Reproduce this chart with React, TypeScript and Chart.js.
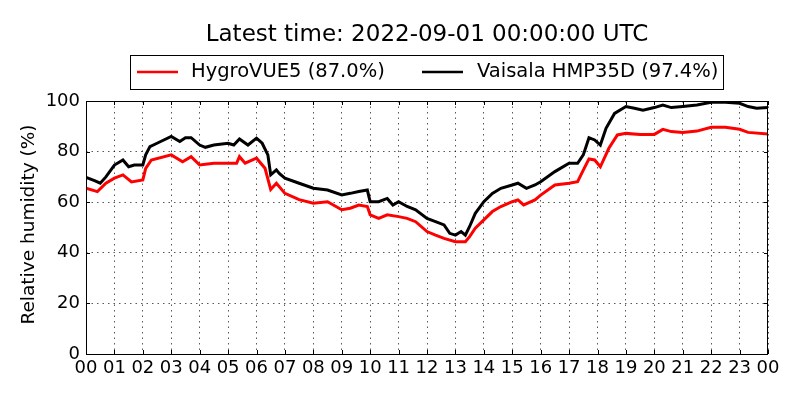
import { useEffect, useRef } from 'react'
import { Chart, registerables } from 'chart.js'

Chart.register(...registerables)

const titleText = 'Latest time: 2022-09-01 00:00:00 UTC'
const yLabel = 'Relative humidity (%)'
const hygroLabel = 'HygroVUE5 (87.0%)'
const vaisalaLabel = 'Vaisala HMP35D (97.4%)'

// hours since 00 UTC and relative humidity (%)
const hygroHours = [0, 0.4, 0.7, 1, 1.3, 1.6, 2, 2.1, 2.3, 3, 3.4, 3.7, 4, 4.5, 5, 5.3, 5.4, 5.6, 6, 6.3, 6.5, 6.7, 7, 7.5, 8, 8.5, 9, 9.3, 9.6, 9.9, 10, 10.3, 10.6, 11, 11.3, 11.6, 12, 12.3, 12.6, 13, 13.35, 13.5, 13.7, 14, 14.3, 14.6, 15, 15.2, 15.4, 15.8, 16, 16.5, 17, 17.3, 17.5, 17.7, 17.9, 18.1, 18.4, 18.7, 19, 19.5, 20, 20.3, 20.6, 21, 21.5, 22, 22.5, 23, 23.3, 24]
const hygroValues = [65.5, 64.2, 67.5, 69.5, 70.8, 68, 68.8, 73.4, 76.7, 78.7, 76, 78, 74.7, 75.4, 75.4, 75.4, 78, 75.4, 77.4, 73.4, 65, 67.5, 63.5, 61, 59.6, 60.2, 57, 57.6, 58.9, 58.3, 55, 53.6, 55, 54.3, 53.6, 52.3, 48.4, 47, 45.7, 44.4, 44.4, 46.4, 49.7, 53, 56.3, 58.3, 60.2, 60.9, 58.9, 60.9, 62.8, 66.8, 67.5, 68.1, 72.7, 77.1, 76.7, 74, 81.3, 86.6, 87.2, 86.8, 86.8, 88.8, 87.9, 87.6, 88.1, 89.6, 89.6, 88.8, 87.6, 87.0]

const vaisalaHours = [0, 0.3, 0.5, 0.7, 1, 1.3, 1.5, 1.7, 2, 2.1, 2.25, 2.5, 3, 3.3, 3.5, 3.7, 4, 4.2, 4.5, 5, 5.2, 5.4, 5.7, 6, 6.2, 6.4, 6.5, 6.7, 6.8, 7, 7.5, 8, 8.5, 9, 9.3, 9.6, 9.9, 10, 10.3, 10.6, 10.8, 11, 11.3, 11.6, 12, 12.3, 12.6, 12.8, 13, 13.2, 13.35, 13.5, 13.7, 14, 14.3, 14.6, 15, 15.2, 15.5, 15.8, 16, 16.5, 17, 17.3, 17.5, 17.7, 17.9, 18.1, 18.3, 18.6, 19, 19.3, 19.6, 20, 20.3, 20.6, 21, 21.5, 22, 22.5, 23, 23.3, 23.6, 24]
const vaisalaValues = [69.8, 68.5, 67.5, 70, 74.7, 76.7, 74, 74.7, 74.7, 78.7, 82, 83.3, 86, 84, 85.5, 85.5, 82.6, 81.7, 82.6, 83.3, 82.6, 85, 82.6, 85.3, 83.3, 78.7, 70.8, 72.8, 71.4, 69.5, 67.5, 65.5, 64.8, 62.9, 63.5, 64.2, 64.8, 60.2, 60.2, 61.5, 58.9, 60.2, 58.3, 57, 53.6, 52.3, 51, 47.7, 47, 48.4, 47, 50.4, 55.6, 60.2, 63.5, 65.5, 66.8, 67.5, 65.5, 66.8, 68.1, 72.1, 75.4, 75.4, 78.7, 85.5, 84.6, 82.6, 89.2, 95.1, 97.8, 97.1, 96.4, 97.4, 98.4, 97.4, 97.8, 98.4, 99.5, 99.5, 99.1, 97.8, 97.1, 97.4]

const FONT = "'DejaVu Sans', sans-serif"

// title, boxed legend, y label, frame and inward ticks like the matplotlib original
const decorations = {
  id: 'decorations',
  afterDraw(chart: any) {
    const { ctx, chartArea: a, scales } = chart
    ctx.save()
    ctx.fillStyle = '#000'
    ctx.textBaseline = 'middle'

    ctx.font = `23px ${FONT}`
    ctx.textAlign = 'center'
    ctx.fillText(titleText, (a.left + a.right) / 2, 35)

    // legend box
    ctx.lineWidth = 1
    ctx.strokeStyle = '#000'
    ctx.strokeRect(130.5, 55.5, 593, 34)
    ctx.font = `19.5px ${FONT}`
    ctx.textAlign = 'left'
    ctx.lineWidth = 2.5
    ctx.strokeStyle = '#ff0000'
    ctx.beginPath(); ctx.moveTo(137, 72); ctx.lineTo(178, 72); ctx.stroke()
    ctx.fillText(hygroLabel, 191, 72)
    ctx.strokeStyle = '#000'
    ctx.beginPath(); ctx.moveTo(422, 72); ctx.lineTo(463, 72); ctx.stroke()
    ctx.fillText(vaisalaLabel, 477, 72)

    // y axis label
    ctx.font = `18.5px ${FONT}`
    ctx.textAlign = 'center'
    ctx.translate(29, (a.top + a.bottom) / 2 - 3)
    ctx.rotate(-Math.PI / 2)
    ctx.fillText(yLabel, 0, 0)
    ctx.setTransform(1, 0, 0, 1, 0, 0)
    const dpr = chart.currentDevicePixelRatio || 1
    ctx.scale(dpr, dpr)

    // frame
    ctx.lineWidth = 1
    ctx.strokeStyle = '#000'
    ctx.setLineDash([])
    ctx.strokeRect(a.left + 0.5, a.top + 0.5, a.right - a.left - 1, a.bottom - a.top)

    // inward tick marks on all four sides
    ctx.beginPath()
    scales.x.ticks.forEach((t: any) => {
      const px = Math.round(scales.x.getPixelForValue(t.value)) + 0.5
      ctx.moveTo(px, a.bottom); ctx.lineTo(px, a.bottom - 4)
      ctx.moveTo(px, a.top); ctx.lineTo(px, a.top + 4)
    })
    scales.y.ticks.forEach((t: any) => {
      const py = Math.round(scales.y.getPixelForValue(t.value)) + 0.5
      ctx.moveTo(a.left, py); ctx.lineTo(a.left + 4, py)
      ctx.moveTo(a.right, py); ctx.lineTo(a.right - 4, py)
    })
    ctx.stroke()
    ctx.restore()
  },
}

export default function App() {
  const canvasRef = useRef<HTMLCanvasElement>(null)
  const chartRef = useRef<any>(null)

  useEffect(() => {
    if (!canvasRef.current) return
    if (chartRef.current) chartRef.current.destroy()

    chartRef.current = new Chart(canvasRef.current, {
      type: 'line',
      data: {
        datasets: [
          {
            label: hygroLabel,
            data: hygroHours.map((h, i) => ({ x: h, y: hygroValues[i] })),
            borderColor: '#ff0000',
            borderWidth: 3,
            pointRadius: 0,
            tension: 0,
            order: 2,
          },
          {
            label: vaisalaLabel,
            data: vaisalaHours.map((h, i) => ({ x: h, y: vaisalaValues[i] })),
            borderColor: '#000000',
            borderWidth: 3,
            pointRadius: 0,
            tension: 0,
            order: 1,
          },
        ],
      },
      options: {
        responsive: false,
        animation: false,
        layout: { padding: { top: 101, right: 32, left: 0, bottom: 0 } },
        plugins: {
          legend: { display: false },
          title: { display: false },
          tooltip: { enabled: false },
        },
        scales: {
          x: {
            type: 'linear',
            min: 0,
            max: 24,
            afterFit: (s: any) => { s.height = 46 },
            ticks: {
              stepSize: 1,
              autoSkip: false,
              maxRotation: 0,
              padding: 4,
              color: '#000',
              font: { family: FONT, size: 18 },
              callback: (v: string | number) => String(Number(v) % 24).padStart(2, '0'),
            },
            grid: { color: 'rgba(0,0,0,0.65)', lineWidth: 1, drawTicks: false },
            border: { display: false, dash: [1.5, 4] },
          },
          y: {
            min: 0,
            max: 100,
            afterFit: (s: any) => { s.width = 86 },
            ticks: {
              stepSize: 20,
              padding: 6,
              color: '#000',
              font: { family: FONT, size: 18 },
            },
            grid: { color: 'rgba(0,0,0,0.65)', lineWidth: 1, drawTicks: false },
            border: { display: false, dash: [1.5, 4] },
          },
        },
      },
      plugins: [decorations],
    })

    return () => {
      if (chartRef.current) chartRef.current.destroy()
    }
  }, [])

  return (
    <div style={{ position: 'fixed', left: 0, top: 0, width: 800, height: 400, background: '#fff' }}>
      <canvas ref={canvasRef} width={800} height={400} style={{ width: 800, height: 400 }} />
    </div>
  )
}
